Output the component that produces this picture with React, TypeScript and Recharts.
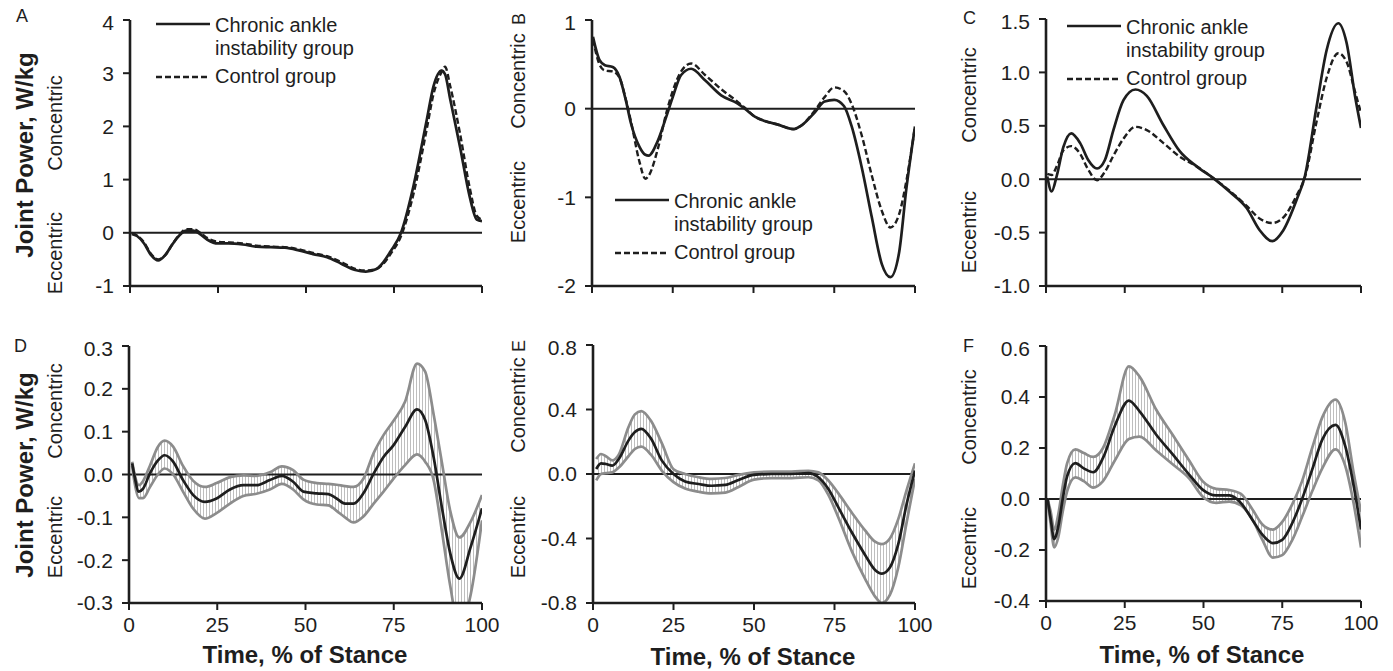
import React from "react";
import { ComposedChart, Line, Area, XAxis, YAxis, ReferenceLine } from "recharts";

const FONT = '"Liberation Sans", Arial, Helvetica, sans-serif';
const INK = "#1e1e1e";
const BAND = "#8c8c8c";

const stanceTicks = [0, 25, 50, 75, 100];

// ---- top row: group means (CAI vs control) ----
const xA = [0.5, 2, 4, 6, 8, 10, 12, 14, 16, 18, 20, 22, 25, 28, 32, 36, 40, 44, 48, 52, 56, 60, 64, 67, 70, 72, 74, 77, 80.5, 84.3, 86.2, 88.5, 89.5, 91, 93.8, 96.5, 98.5, 100];
const caiA = [-0.02, -0.06, -0.2, -0.42, -0.52, -0.42, -0.22, -0.05, 0.04, 0.04, -0.03, -0.13, -0.2, -0.2, -0.22, -0.26, -0.27, -0.28, -0.33, -0.4, -0.46, -0.58, -0.7, -0.73, -0.68, -0.55, -0.35, 0, 0.87, 2.12, 2.75, 3.05, 2.98, 2.5, 1.6, 0.68, 0.25, 0.22];
const ctrlA = [0, -0.05, -0.18, -0.4, -0.5, -0.42, -0.22, -0.04, 0.07, 0.07, 0.0, -0.1, -0.17, -0.18, -0.2, -0.24, -0.26, -0.27, -0.31, -0.38, -0.44, -0.55, -0.68, -0.71, -0.68, -0.58, -0.4, -0.06, 0.72, 1.95, 2.6, 3.02, 3.12, 2.75, 1.85, 0.85, 0.32, 0.25];

const xB = [0.3, 2.3, 4, 6.4, 8.5, 10.5, 12.1, 14.7, 16.5, 17.5, 20.4, 23, 25, 27.6, 30.7, 35, 40, 45, 47.3, 50.4, 53.5, 57.6, 62.3, 64.8, 69, 72, 75, 78, 80.4, 83.5, 86.6, 89.7, 92.4, 95, 97.4, 100];
const caiB = [0.81, 0.55, 0.49, 0.47, 0.36, 0.09, -0.17, -0.43, -0.52, -0.53, -0.36, -0.09, 0.13, 0.38, 0.45, 0.32, 0.15, 0.06, 0, -0.09, -0.14, -0.18, -0.23, -0.19, -0.04, 0.08, 0.1, 0.03, -0.2, -0.66, -1.22, -1.75, -1.9, -1.64, -0.88, -0.2];
const ctrlB = [0.78, 0.5, 0.43, 0.42, 0.35, 0.1, -0.15, -0.6, -0.79, -0.76, -0.45, -0.05, 0.2, 0.42, 0.51, 0.38, 0.22, 0.08, 0.01, -0.09, -0.14, -0.18, -0.23, -0.19, -0.02, 0.13, 0.24, 0.2, 0.05, -0.3, -0.75, -1.15, -1.34, -1.2, -0.8, -0.2];

const xC = [0.4, 1.8, 3.4, 5.5, 8, 10.8, 13.4, 16.2, 18.7, 21.4, 24.6, 28.4, 32, 37.2, 42.5, 47.8, 53.1, 58.4, 63.7, 67.9, 71.8, 75.3, 79.6, 82.2, 85.9, 89.1, 92.8, 95.4, 98.1, 100];
const caiC = [0.025, -0.115, 0.03, 0.3, 0.43, 0.34, 0.18, 0.1, 0.18, 0.46, 0.74, 0.84, 0.78, 0.51, 0.26, 0.12, 0.01, -0.12, -0.27, -0.48, -0.58, -0.48, -0.19, 0.03, 0.68, 1.21, 1.46, 1.28, 0.78, 0.48];
const ctrlC = [0.05, 0.04, 0.12, 0.27, 0.31, 0.24, 0.09, -0.01, 0.07, 0.22, 0.38, 0.49, 0.46, 0.34, 0.21, 0.12, 0.01, -0.11, -0.25, -0.37, -0.41, -0.36, -0.15, 0.02, 0.54, 0.95, 1.18, 1.1, 0.82, 0.62];

// ---- bottom row: group difference with confidence band ----
const xD = [0.9, 1.6, 2.8, 4, 5.9, 8.2, 10.1, 12.5, 15.3, 18.2, 21.5, 24.8, 28.6, 32.4, 36.1, 39.9, 43.3, 46.5, 49.4, 53.2, 56.5, 58.8, 61.2, 63.6, 66.4, 69.3, 72.1, 74.9, 78.2, 81.6, 83.9, 86.3, 88.6, 91, 93.6, 96.8, 100];
const meanD = [0.026, -0.005, -0.04, -0.033, 0.002, 0.033, 0.045, 0.03, -0.013, -0.048, -0.064, -0.056, -0.035, -0.025, -0.025, -0.013, -0.003, -0.017, -0.04, -0.044, -0.046, -0.056, -0.068, -0.068, -0.044, 0.002, 0.041, 0.068, 0.111, 0.152, 0.127, 0.04, -0.075, -0.184, -0.243, -0.169, -0.079];
const hiD = [0.03, 0.0, -0.025, -0.015, 0.02, 0.065, 0.079, 0.065, 0.02, -0.015, -0.029, -0.02, -0.006, -0.002, -0.003, 0.005, 0.019, 0.01, -0.012, -0.02, -0.022, -0.024, -0.027, -0.029, -0.01, 0.05, 0.092, 0.125, 0.17, 0.259, 0.24, 0.14, 0.03, -0.085, -0.147, -0.11, -0.048];
const loD = [0.02, -0.02, -0.055, -0.055, -0.03, 0.0, 0.014, 0.0, -0.04, -0.08, -0.103, -0.09, -0.068, -0.05, -0.045, -0.035, -0.022, -0.035, -0.058, -0.07, -0.072, -0.085, -0.1, -0.112, -0.098, -0.068, -0.04, -0.01, 0.022, 0.047, 0.03, -0.013, -0.13, -0.26, -0.36, -0.28, -0.107];

const xE = [1, 2.5, 4, 6, 8, 11, 13, 15, 18, 21.4, 25, 28.6, 32.8, 36.9, 41.1, 45.2, 50, 55.5, 61.7, 66.9, 70, 73.1, 76.2, 80.4, 84.5, 87.6, 89.7, 92.2, 94.8, 97.4, 100];
const meanE = [0.031, 0.066, 0.062, 0.052, 0.093, 0.207, 0.26, 0.28, 0.22, 0.083, 0, -0.046, -0.062, -0.073, -0.068, -0.037, -0.006, 0, 0, 0.006, -0.02, -0.093, -0.207, -0.363, -0.502, -0.595, -0.618, -0.58, -0.435, -0.187, 0.021];
const hiE = [0.093, 0.124, 0.11, 0.085, 0.12, 0.29, 0.37, 0.39, 0.33, 0.19, 0.03, 0.0, -0.02, -0.03, -0.025, -0.005, 0.01, 0.015, 0.015, 0.02, 0.01, -0.04, -0.12, -0.24, -0.35, -0.42, -0.435, -0.4, -0.28, -0.1, 0.066];
const loE = [-0.04, 0.0, 0.005, 0.01, 0.04, 0.11, 0.155, 0.17, 0.12, 0.02, -0.05, -0.09, -0.11, -0.12, -0.115, -0.08, -0.035, -0.025, -0.025, -0.02, -0.04, -0.13, -0.27, -0.48, -0.65, -0.76, -0.8, -0.75, -0.58, -0.3, -0.03];

const xF = [0.5, 1.5, 2.6, 3.9, 5.3, 6.7, 9.3, 12, 15, 18.1, 21.8, 26.3, 29.7, 35, 40.3, 45.5, 49.7, 54, 58.2, 61.9, 65.5, 68.7, 72, 75, 78.2, 81.3, 84.5, 87.7, 91.9, 95, 97.7, 100];
const meanF = [0, -0.08, -0.157, -0.107, 0, 0.089, 0.141, 0.12, 0.105, 0.161, 0.285, 0.386, 0.344, 0.252, 0.174, 0.095, 0.037, 0.014, 0.014, -0.016, -0.081, -0.14, -0.173, -0.16, -0.094, 0, 0.115, 0.233, 0.291, 0.207, 0.05, -0.12];
const hiF = [0, -0.05, -0.12, -0.06, 0.05, 0.14, 0.195, 0.18, 0.165, 0.2, 0.33, 0.52, 0.48, 0.35, 0.25, 0.15, 0.07, 0.04, 0.035, 0.02, -0.04, -0.1, -0.12, -0.09, -0.02, 0.07, 0.2, 0.32, 0.39, 0.3, 0.1, -0.05];
const loF = [0, -0.1, -0.19, -0.15, -0.05, 0.03, 0.085, 0.07, 0.045, 0.07, 0.15, 0.235, 0.245, 0.19, 0.135, 0.08, 0.01, -0.015, -0.01, -0.025, -0.08, -0.16, -0.23, -0.22, -0.16, -0.07, 0.03, 0.12, 0.195, 0.13, -0.02, -0.19];

const ticksA = [-1, 0, 1, 2, 3, 4];
const ticksB = [-2, -1, 0, 1];
const ticksC = [-1, -0.5, 0, 0.5, 1, 1.5];
const ticksD = [-0.3, -0.2, -0.1, 0, 0.1, 0.2, 0.3];
const ticksE = [-0.8, -0.4, 0, 0.4, 0.8];
const ticksF = [-0.4, -0.2, 0, 0.2, 0.4, 0.6];

const groups = (xs: number[], cai: number[], ctrl: number[]) =>
  xs.map((x, i) => ({ x, cai: cai[i], ctrl: ctrl[i] }));
const diffs = (xs: number[], m: number[], hi: number[], lo: number[]) =>
  xs.map((x, i) => ({ x, mean: m[i], hi: hi[i], lo: lo[i], band: [lo[i], hi[i]] }));

const YW = 62;
const MT = 10;
const MR = 20;

type Box = { left: number; top: number; w: number; h: number };

const tickStyle = { fill: INK, fontSize: 21, fontFamily: FONT };
const axisStyle = { stroke: INK, strokeWidth: 2.6 };
const tickLine = { stroke: INK, strokeWidth: 2 };

function axes(ticks: number[], digits: number, labels: boolean) {
  return [
    <XAxis
      key="x"
      type="number"
      dataKey="x"
      domain={[0, 100]}
      ticks={stanceTicks}
      tickFormatter={labels ? (v: number) => String(v) : () => ""}
      height={labels ? 34 : 12}
      tickSize={7}
      tickMargin={7}
      axisLine={axisStyle}
      tickLine={tickLine}
      tick={tickStyle}
      allowDataOverflow
    />,
    <YAxis
      key="y"
      type="number"
      domain={[ticks[0], ticks[ticks.length - 1]]}
      ticks={ticks}
      tickFormatter={(v: number) => v.toFixed(digits)}
      width={YW}
      tickSize={7}
      tickMargin={9}
      axisLine={axisStyle}
      tickLine={tickLine}
      tick={tickStyle}
      allowDataOverflow
    />,
  ];
}

function GroupPanel({ box, data, ticks, digits }: { box: Box; data: any[]; ticks: number[]; digits: number }) {
  return (
    <div style={{ position: "absolute", left: box.left - YW, top: box.top - MT }}>
      <ComposedChart width={YW + box.w + MR} height={MT + box.h + 12 + 4} data={data}
        margin={{ top: MT, right: MR, left: 0, bottom: 4 }}>
        {axes(ticks, digits, false)}
        <ReferenceLine y={0} stroke={INK} strokeWidth={2} />
        <Line dataKey="ctrl" type="monotone" stroke={INK} strokeWidth={2.4} strokeDasharray="6 3"
          dot={false} activeDot={false} isAnimationActive={false} />
        <Line dataKey="cai" type="monotone" stroke={INK} strokeWidth={2.7}
          dot={false} activeDot={false} isAnimationActive={false} />
      </ComposedChart>
    </div>
  );
}

function DiffPanel({ id, box, data, ticks }: { id: string; box: Box; data: any[]; ticks: number[] }) {
  return (
    <div style={{ position: "absolute", left: box.left - YW, top: box.top - MT }}>
      <ComposedChart width={YW + box.w + MR} height={MT + box.h + 34 + 4} data={data}
        margin={{ top: MT, right: MR, left: 0, bottom: 4 }}>
        <defs>
          <pattern id={id} width={3} height={6} patternUnits="userSpaceOnUse">
            <line x1={1.5} y1={0} x2={1.5} y2={6} stroke="#a8a8a8" strokeWidth={0.75} />
          </pattern>
        </defs>
        {axes(ticks, 1, true)}
        <Area dataKey="band" type="monotone" stroke="none" fill={`url(#${id})`} fillOpacity={1}
          dot={false} activeDot={false} isAnimationActive={false} />
        <ReferenceLine y={0} stroke={INK} strokeWidth={2.2} />
        <Line dataKey="hi" type="monotone" stroke={BAND} strokeWidth={2.7}
          dot={false} activeDot={false} isAnimationActive={false} />
        <Line dataKey="lo" type="monotone" stroke={BAND} strokeWidth={2.7}
          dot={false} activeDot={false} isAnimationActive={false} />
        <Line dataKey="mean" type="monotone" stroke={INK} strokeWidth={2.7}
          dot={false} activeDot={false} isAnimationActive={false} />
      </ComposedChart>
    </div>
  );
}

function VText({ x, y, children, size = 20, bold = false }: { x: number; y: number; children: string; size?: number; bold?: boolean }) {
  return (
    <text transform={`translate(${x},${y}) rotate(-90)`} textAnchor="middle" dominantBaseline="central"
      fontSize={size} fontWeight={bold ? "bold" : "normal"} fill={INK}>
      {children}
    </text>
  );
}

function Legend({ x, y }: { x: number; y: number }) {
  return (
    <g fontSize={20} fill={INK}>
      <line x1={x} y1={y} x2={x + 54} y2={y} stroke={INK} strokeWidth={2.6} />
      <text x={x + 59} y={y + 1} dominantBaseline="central">Chronic ankle</text>
      <text x={x + 59} y={y + 24} dominantBaseline="central">instability group</text>
      <line x1={x} y1={y + 53} x2={x + 54} y2={y + 53} stroke={INK} strokeWidth={2.4} strokeDasharray="6 3" />
      <text x={x + 59} y={y + 52} dominantBaseline="central">Control group</text>
    </g>
  );
}

export default function App() {
  return (
    <div style={{ position: "fixed", left: 0, top: 0, width: 1393, height: 671, background: "#fff", fontFamily: FONT }}>
      <GroupPanel box={{ left: 130, top: 20, w: 352, h: 266 }} data={groups(xA, caiA, ctrlA)} ticks={ticksA} digits={0} />
      <GroupPanel box={{ left: 592, top: 20, w: 323, h: 266 }} data={groups(xB, caiB, ctrlB)} ticks={ticksB} digits={0} />
      <GroupPanel box={{ left: 1046, top: 19, w: 315, h: 267 }} data={groups(xC, caiC, ctrlC)} ticks={ticksC} digits={1} />
      <DiffPanel id="hatchD" box={{ left: 129, top: 346, w: 353, h: 257 }} data={diffs(xD, meanD, hiD, loD)} ticks={ticksD} />
      <DiffPanel id="hatchE" box={{ left: 593, top: 345, w: 322, h: 258 }} data={diffs(xE, meanE, hiE, loE)} ticks={ticksE} />
      <DiffPanel id="hatchF" box={{ left: 1046, top: 346, w: 315, h: 255 }} data={diffs(xF, meanF, hiF, loF)} ticks={ticksF} />

      <svg width={1393} height={671} style={{ position: "absolute", left: 0, top: 0, pointerEvents: "none" }}
        fontFamily={FONT}>
        <VText x={24} y={155} size={24} bold>Joint Power, W/kg</VText>
        <VText x={24} y={475} size={24} bold>Joint Power, W/kg</VText>

        <VText x={55} y={123}>Concentric</VText>
        <VText x={55} y={253}>Eccentric</VText>
        <VText x={518} y={81}>Concentric</VText>
        <VText x={518} y={202}>Eccentric</VText>
        <VText x={969} y={95}>Concentric</VText>
        <VText x={969} y={232}>Eccentric</VText>
        <VText x={55} y={411}>Concentric</VText>
        <VText x={55} y={537}>Eccentric</VText>
        <VText x={518} y={405}>Concentric</VText>
        <VText x={518} y={537}>Eccentric</VText>
        <VText x={969} y={417}>Concentric</VText>
        <VText x={969} y={548}>Eccentric</VText>

        <g fontSize={18} fill={INK}>
          <text x={16} y={22}>A</text>
          <text x={963} y={24}>C</text>
          <text x={14} y={352}>D</text>
          <text x={963} y={352}>F</text>
        </g>
        <VText x={519} y={19} size={18}>B</VText>
        <VText x={519} y={346} size={18}>E</VText>

        <Legend x={156} y={24} />
        <Legend x={615} y={200} />
        <Legend x={1067} y={26} />

        <g fontSize={24} fontWeight="bold" fill={INK} textAnchor="middle">
          <text x={305} y={663}>Time, % of Stance</text>
          <text x={753} y={665}>Time, % of Stance</text>
          <text x={1202} y={663}>Time, % of Stance</text>
        </g>
      </svg>
    </div>
  );
}
